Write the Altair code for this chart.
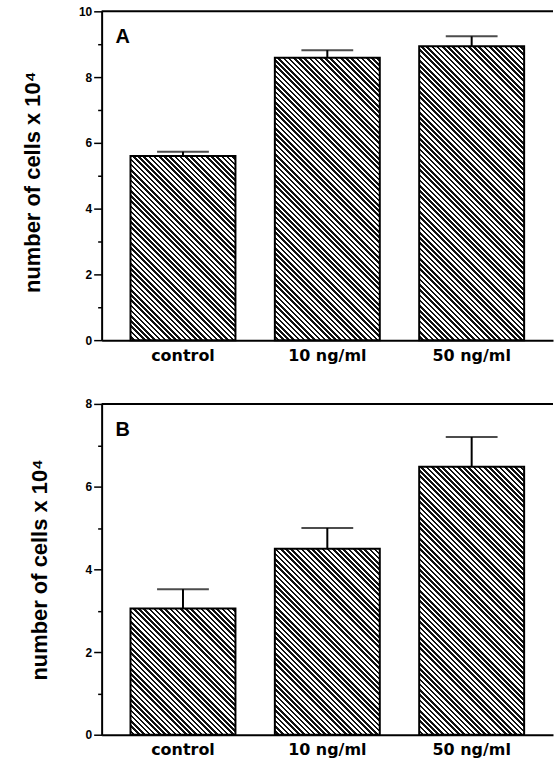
import math
import altair as alt
import pandas as pd

categories = ["control", "10 ng/ml", "50 ng/ml"]
a_means = [5.6, 8.59, 8.94]
a_errs = [0.13, 0.23, 0.30]
b_means = [3.05, 4.5, 6.48]
b_errs = [0.47, 0.5, 0.72]
panel_labels = ["A", "B"]
y_title = "number of cells x 10\u2074"

W = 453
PAD_INNER = 0.273
PAD_OUTER = 0.2
FONT = "Liberation Sans"
XFONT = "DejaVu Sans"


def hatch(w, h, period=3.7, dark=0.5):
    r = h / w
    a = (1 + r) / (1 + r * r)
    n = (w + h) / math.sqrt(2) / period
    stops = []
    i = 0
    while i < n:
        o0 = min(i / n, 1)
        o1 = min((i + 1 - dark) / n, 1)
        o2 = min((i + 1) / n, 1)
        stops += [
            alt.GradientStop(color="white", offset=o0),
            alt.GradientStop(color="white", offset=o1),
            alt.GradientStop(color="#111111", offset=o1),
            alt.GradientStop(color="#111111", offset=o2),
        ]
        i += 1
    return alt.LinearGradient(gradient="linear", stops=stops,
                              x1=0, y1=1, x2=a, y2=1 - a * r)


def panel(means, errs, ymax, H, label, title_shift):
    df = pd.DataFrame({"cat": categories, "mean": means,
                       "hi": [m + e for m, e in zip(means, errs)]})
    step = W / (len(categories) - PAD_INNER + 2 * PAD_OUTER)
    bw = step * (1 - PAD_INNER)

    x = alt.X("cat:N", sort=categories,
              scale=alt.Scale(paddingInner=PAD_INNER, paddingOuter=PAD_OUTER),
              axis=alt.Axis(title=None, labelAngle=0, ticks=False,
                            domainColor="black", domainWidth=2,
                            labelFont=XFONT, labelFontSize=16,
                            labelFontWeight="bold", labelColor="black",
                            labelPadding=7))

    def yenc(field):
        return alt.Y(field, type="quantitative",
                     scale=alt.Scale(domain=[0, ymax], nice=False, zero=True),
                     axis=alt.Axis(values=list(range(ymax + 1)),
                                   labelExpr="datum.value % 2 == 0 ? datum.label : ''",
                                   grid=False, domainColor="black", domainWidth=2,
                                   tickColor="black", tickWidth=1.5,
                                   tickSize={"condition": {"test": "datum.value % 2 == 0", "value": 8}, "value": 4},
                                   labelPadding=2, labelFont=FONT, labelFontSize=12,
                                   labelFontWeight="bold", labelColor="black",
                                   title=y_title, titleFont=FONT, titleFontSize=22,
                                   titleFontWeight="bold", titleColor="black",
                                   titlePadding=34, titleY=H / 2 + title_shift))

    base = alt.Chart(df)
    bars = [
        base.transform_filter(alt.datum.cat == c)
        .mark_bar(fill=hatch(bw, m / ymax * H), stroke="black", strokeWidth=2)
        .encode(x=x, y=yenc("mean"))
        for c, m in zip(categories, means)
    ]
    rule = base.mark_rule(color="black", strokeWidth=2).encode(
        x=x, y=yenc("mean"), y2="hi:Q")
    cap = base.mark_tick(color="black", thickness=2, size=52).encode(
        x=x, y=yenc("hi"))
    top = alt.Chart(pd.DataFrame({"v": [ymax]})).mark_rule(
        color="black", strokeWidth=2).encode(y=yenc("v"))
    text = alt.Chart(pd.DataFrame({"t": [label]})).mark_text(
        align="left", baseline="alphabetic", font=FONT, fontSize=20,
        fontWeight="bold", color="black").encode(
        text="t:N", x=alt.value(14), y=alt.value(32))
    return alt.layer(*bars, rule, cap, top, text).properties(width=W, height=H)


chart = alt.vconcat(
    panel(a_means, a_errs, 10, 330, panel_labels[0], 6),
    panel(b_means, b_errs, 8, 332, panel_labels[1], 0),
    spacing=35,
).properties(
    padding={"left": 21, "top": 4, "right": 0, "bottom": 0},
    background="white",
).configure_view(stroke=None)

chart.save("out.html", embed_options={"renderer": "svg", "actions": False})
